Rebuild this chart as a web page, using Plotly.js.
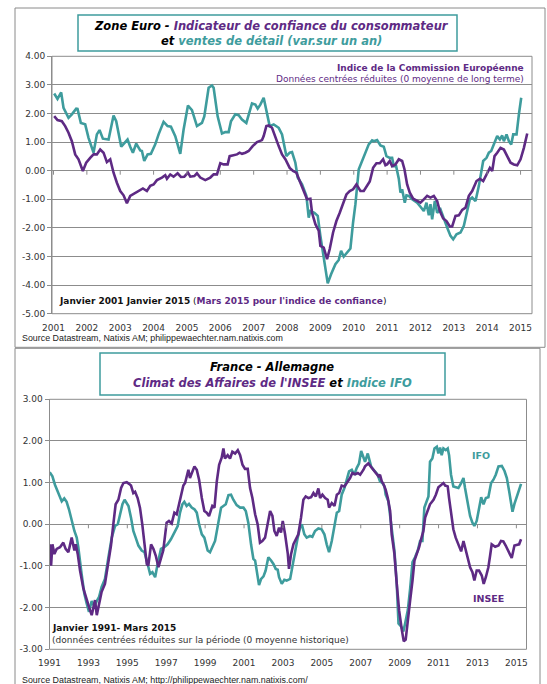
<!DOCTYPE html>
<html><head><meta charset="utf-8">
<script src="https://cdn.plot.ly/plotly-3.0.1.min.js"></script>
<style>html,body{margin:0;padding:0;background:#fff}#chart{width:547px;height:684px}</style>
</head><body><div id="chart"></div>
<script>
// ---------- DATA ----------
// Top chart: Zone Euro, 2001 - 2015 (decimal years)
const confYears = [2001.02,2001.12,2001.25,2001.35,2001.45,2001.55,2001.65,2001.75,2001.88,2001.98,
 2002.10,2002.20,2002.30,2002.40,2002.50,2002.60,2002.70,2002.80,2002.90,
 2003.00,2003.10,2003.20,2003.30,2003.45,2003.55,2003.68,2003.80,2003.90,
 2004.00,2004.10,2004.25,2004.35,2004.40,2004.50,2004.60,2004.72,2004.82,2004.92,
 2005.03,2005.10,2005.22,2005.30,2005.40,2005.55,2005.70,2005.80,2005.90,
 2006.00,2006.10,2006.22,2006.28,2006.38,2006.50,2006.58,2006.65,2006.75,2006.85,2006.97,
 2007.10,2007.25,2007.30,2007.38,2007.45,2007.55,2007.65,2007.75,2007.85,2007.95,
 2008.08,2008.18,2008.28,2008.38,2008.50,2008.60,2008.70,2008.75,2008.85,2008.95,
 2009.00,2009.10,2009.20,2009.28,2009.38,2009.48,2009.58,2009.68,2009.78,2009.88,2009.98,
 2010.08,2010.20,2010.30,2010.40,2010.48,2010.58,2010.68,2010.78,2010.88,2010.95,
 2011.00,2011.08,2011.15,2011.25,2011.35,2011.45,2011.52,2011.60,2011.68,2011.78,2011.90,
 2012.00,2012.10,2012.20,2012.30,2012.40,2012.50,2012.58,2012.68,2012.78,2012.88,2012.95,
 2013.05,2013.15,2013.25,2013.35,2013.45,2013.55,2013.68,2013.78,2013.88,2013.98,
 2014.08,2014.15,2014.22,2014.30,2014.40,2014.50,2014.60,2014.70,2014.80,2014.90,
 2015.00,2015.10,2015.20];
const confValues = [1.91,1.77,1.73,1.56,1.33,1.03,0.57,0.40,-0.01,0.28,
 0.45,0.57,0.57,0.74,0.63,0.30,0.40,-0.07,-0.42,
 -0.71,-0.86,-1.14,-0.88,-0.77,-0.71,-0.62,-0.71,-0.53,
 -0.48,-0.33,-0.24,-0.16,-0.28,-0.13,-0.21,-0.09,-0.22,-0.21,
 -0.07,-0.21,-0.19,-0.09,-0.24,-0.33,-0.24,-0.13,-0.13,
 0.26,0.22,0.22,0.51,0.53,0.57,0.63,0.59,0.63,0.69,0.86,
 1.00,1.07,1.21,1.56,1.58,1.50,1.15,0.86,0.57,0.40,
 0.10,-0.01,-0.07,-0.36,-0.77,-1.00,-0.98,-1.47,-1.87,-2.10,
 -2.63,-2.69,-3.09,-2.74,-2.16,-1.76,-1.47,-1.12,-0.83,-0.71,-0.65,
 -0.48,-0.71,-0.71,-0.53,-0.38,0.10,0.26,0.26,0.40,0.19,
 0.22,0.34,0.16,0.22,0.40,0.34,0.05,-0.48,-0.77,-0.98,-1.06,
 -1.12,-1.00,-0.88,-0.94,-0.88,-1.06,-1.41,-1.67,-1.76,-1.95,-1.95,
 -1.58,-1.56,-1.37,-1.29,-0.88,-0.71,-0.36,-0.28,-0.36,-0.13,
 0.10,-0.01,0.51,0.63,0.80,0.74,0.51,0.28,0.22,0.19,
 0.40,0.80,1.30];

const retailYears = [2001.02,2001.12,2001.23,2001.30,2001.45,2001.55,2001.68,2001.72,2001.82,2001.95,
 2002.05,2002.20,2002.30,2002.38,2002.48,2002.65,2002.80,2002.88,
 2003.03,2003.12,2003.22,2003.30,2003.38,2003.48,2003.60,2003.65,2003.72,2003.82,2003.92,
 2004.05,2004.15,2004.30,2004.42,2004.52,2004.65,2004.72,2004.80,2004.90,
 2005.03,2005.15,2005.30,2005.45,2005.52,2005.65,2005.75,2005.80,2005.92,
 2006.05,2006.15,2006.25,2006.32,2006.45,2006.55,2006.65,2006.78,2006.95,
 2007.05,2007.12,2007.20,2007.30,2007.40,2007.48,2007.60,2007.75,2007.85,2007.98,
 2008.08,2008.15,2008.25,2008.32,2008.45,2008.58,2008.65,2008.70,2008.82,2008.92,
 2009.00,2009.08,2009.14,2009.22,2009.32,2009.45,2009.55,2009.62,2009.70,2009.80,2009.90,2009.98,
 2010.05,2010.15,2010.25,2010.35,2010.45,2010.55,2010.60,2010.70,2010.80,2010.90,2010.98,
 2011.08,2011.15,2011.20,2011.27,2011.35,2011.40,2011.45,2011.53,2011.58,2011.65,2011.75,2011.90,
 2012.00,2012.10,2012.18,2012.25,2012.30,2012.35,2012.43,2012.50,2012.60,2012.70,2012.82,2012.90,2012.98,
 2013.08,2013.20,2013.30,2013.38,2013.48,2013.55,2013.65,2013.75,2013.88,2013.98,
 2014.05,2014.12,2014.20,2014.30,2014.38,2014.45,2014.50,2014.58,2014.65,2014.72,2014.78,2014.88,2014.95,
 2015.02];
const retailValues = [2.70,2.51,2.74,2.20,1.85,1.97,2.17,2.16,1.67,1.62,
 1.15,0.63,1.27,1.42,1.12,1.09,1.93,1.73,
 0.84,0.95,1.09,0.84,0.63,0.95,0.71,0.69,0.34,0.57,0.59,
 0.92,1.27,1.71,1.56,1.54,1.21,0.92,0.59,1.44,
 2.28,2.12,1.56,1.67,1.90,2.90,2.98,2.90,1.90,
 1.30,1.35,1.35,1.73,1.97,1.94,1.79,1.67,2.35,
 2.31,2.17,2.31,2.55,2.02,1.56,1.62,1.50,1.27,0.51,
 0.63,0.65,0.28,-0.24,-0.48,-0.88,-1.64,-1.41,-1.47,-1.58,
 -2.28,-2.86,-3.44,-3.94,-3.62,-3.27,-3.12,-2.80,-3.00,-2.86,-2.72,-1.81,
 -1.17,0.05,0.34,0.57,0.92,1.06,1.03,1.07,0.88,0.84,0.51,
 0.45,0.45,0.16,0.16,-0.28,-0.77,-0.65,-1.12,-0.86,-0.88,-1.00,-1.12,
 -1.26,-1.41,-1.12,-1.56,-1.17,-1.70,-1.06,-1.47,-1.35,-1.70,-2.05,-2.28,-2.40,
 -2.22,-2.16,-1.93,-1.47,-1.00,-0.94,-1.06,-0.53,0.34,0.45,
 0.63,0.69,0.95,1.21,1.09,1.23,1.03,1.27,1.03,0.92,1.27,1.27,1.97,
 2.55];

// Bottom chart: France - Allemagne, 1991 - 2015
const inseeYears = [1991.01,1991.08,1991.15,1991.25,1991.37,1991.54,1991.71,1991.83,1991.97,
 1992.14,1992.28,1992.35,1992.45,1992.57,1992.74,1992.91,
 1993.08,1993.17,1993.25,1993.34,1993.43,1993.51,1993.68,1993.85,
 1994.02,1994.16,1994.28,1994.40,1994.54,1994.68,1994.80,1994.97,
 1995.09,1995.19,1995.31,1995.40,1995.53,1995.65,1995.77,1995.88,
 1996.00,1996.08,1996.22,1996.34,1996.46,1996.60,1996.73,1996.85,
 1997.02,1997.14,1997.28,1997.42,1997.54,1997.71,1997.88,1997.97,
 1998.14,1998.22,1998.45,1998.57,1998.69,1998.83,1998.96,
 1999.08,1999.20,1999.37,1999.48,1999.60,1999.72,1999.85,1999.94,
 2000.02,2000.16,2000.28,2000.40,2000.54,2000.68,2000.80,2000.92,
 2001.05,2001.19,2001.31,2001.43,2001.57,2001.70,2001.82,2001.94,
 2002.08,2002.22,2002.34,2002.46,2002.56,2002.68,2002.80,2002.90,2002.99,
 2003.11,2003.25,2003.31,2003.42,2003.54,2003.66,2003.79,2003.93,
 2004.05,2004.17,2004.31,2004.45,2004.57,2004.69,2004.82,2004.91,
 2005.03,2005.17,2005.30,2005.37,2005.51,2005.65,2005.77,2005.89,
 2006.02,2006.16,2006.28,2006.45,2006.57,2006.71,2006.85,2006.97,
 2007.14,2007.22,2007.39,2007.56,2007.74,2007.91,2007.99,
 2008.08,2008.16,2008.28,2008.39,2008.51,2008.59,2008.73,2008.85,2008.97,
 2009.11,2009.21,2009.31,2009.42,2009.54,2009.66,2009.76,2009.88,
 2010.00,2010.10,2010.22,2010.31,2010.44,2010.56,2010.74,2010.86,2010.99,
 2011.13,2011.25,2011.34,2011.47,2011.54,2011.64,2011.76,2011.88,
 2012.02,2012.16,2012.28,2012.40,2012.50,2012.62,2012.74,2012.84,2012.96,
 2013.08,2013.22,2013.32,2013.43,2013.56,2013.65,2013.73,2013.91,
 2014.08,2014.21,2014.33,2014.45,2014.56,2014.68,2014.76,2014.90,
 2015.02,2015.14,2015.24];
const inseeValues = [-0.48,-0.99,-0.48,-0.71,-0.59,-0.55,-0.44,-0.59,-0.67,
 -0.32,-0.63,-0.48,-0.71,-1.11,-1.54,-1.82,
 -2.06,-2.18,-1.98,-1.82,-2.18,-2.02,-1.62,-1.43,
 -0.95,-0.51,0.00,0.48,0.59,0.87,0.99,1.01,
 0.97,0.93,0.75,0.78,0.63,0.40,0.00,-0.48,
 -0.95,-0.99,-0.48,-0.59,-0.75,-1.03,-0.78,-0.62,
 0.04,0.08,0.02,0.28,0.24,0.59,0.93,0.99,
 1.31,1.11,1.39,1.31,1.07,0.63,0.32,
 0.28,0.20,0.44,0.40,1.03,1.43,1.60,1.82,
 1.58,1.66,1.58,1.74,1.70,1.78,1.66,1.43,
 1.33,1.33,0.87,0.63,0.24,0.00,-0.44,-0.40,
 -0.32,0.04,0.32,0.20,-0.16,-0.28,-0.08,-0.20,0.08,
 -0.24,-0.71,-1.07,-0.71,-0.48,-0.36,-0.24,0.16,
 0.59,0.67,0.63,0.65,0.75,0.67,0.86,0.63,
 0.71,0.63,0.59,0.40,0.51,0.44,0.71,0.75,
 0.93,0.91,0.99,1.11,1.23,1.20,1.23,1.19,
 1.31,1.39,1.46,1.35,1.25,1.15,1.19,
 1.03,0.97,0.83,0.63,0.32,-0.24,-0.71,-1.43,-2.06,
 -2.53,-2.81,-2.77,-2.38,-1.82,-1.35,-0.87,-0.71,
 -0.55,-0.36,-0.16,0.16,0.33,0.48,0.59,0.71,0.89,
 0.95,0.99,0.93,0.91,0.63,0.32,-0.12,-0.32,
 -0.48,-0.65,-0.40,-0.65,-0.79,-1.03,-1.15,-1.35,-1.11,
 -1.11,-1.23,-1.43,-1.27,-1.03,-0.75,-0.48,-0.54,
 -0.51,-0.40,-0.41,-0.51,-0.62,-0.75,-0.81,-0.51,
 -0.49,-0.48,-0.36];

const ifoYears = [1991.01,1991.15,1991.28,1991.45,1991.63,1991.76,1991.88,
 1992.00,1992.14,1992.28,1992.40,1992.48,1992.65,1992.79,1992.91,
 1993.03,1993.17,1993.31,1993.43,1993.55,1993.68,1993.85,
 1994.03,1994.20,1994.37,1994.51,1994.63,1994.75,1994.86,1994.97,
 1995.06,1995.19,1995.31,1995.43,1995.57,1995.74,1995.88,
 1996.00,1996.17,1996.29,1996.43,1996.56,1996.73,1996.90,
 1997.07,1997.24,1997.42,1997.59,1997.71,1997.83,1997.93,
 1998.05,1998.17,1998.31,1998.45,1998.57,1998.69,1998.83,1998.96,
 1999.13,1999.25,1999.37,1999.51,1999.68,1999.82,1999.94,
 2000.06,2000.20,2000.33,2000.45,2000.62,2000.80,2000.97,
 2001.09,2001.22,2001.36,2001.48,2001.57,2001.65,2001.77,2001.88,
 2002.00,2002.11,2002.25,2002.39,2002.51,2002.63,2002.73,2002.80,2002.94,
 2003.07,2003.19,2003.37,2003.49,2003.62,2003.76,2003.88,2003.97,
 2004.10,2004.22,2004.39,2004.51,2004.65,2004.82,2004.99,
 2005.13,2005.25,2005.37,2005.51,2005.65,2005.77,2005.89,
 2006.02,2006.16,2006.28,2006.40,2006.54,2006.67,2006.79,2006.91,
 2007.02,2007.14,2007.22,2007.36,2007.43,2007.53,2007.65,2007.77,2007.87,2007.99,
 2008.11,2008.22,2008.28,2008.42,2008.51,2008.63,2008.73,2008.85,2008.94,
 2009.07,2009.19,2009.28,2009.42,2009.54,2009.66,2009.79,2009.93,
 2010.05,2010.17,2010.27,2010.39,2010.48,2010.56,2010.68,2010.79,2010.91,2010.99,
 2011.08,2011.16,2011.25,2011.37,2011.47,2011.54,2011.64,2011.76,2011.88,
 2012.02,2012.16,2012.28,2012.36,2012.50,2012.62,2012.74,2012.84,2012.96,
 2013.08,2013.19,2013.31,2013.43,2013.56,2013.70,2013.82,2013.94,
 2014.08,2014.25,2014.39,2014.51,2014.63,2014.73,2014.80,2014.90,
 2015.02,2015.14,2015.24];
const ifoValues = [1.25,1.15,0.95,0.75,0.55,0.62,0.54,
 0.36,0.08,-0.16,-0.32,-0.55,-1.19,-1.66,-1.90,
 -2.10,-1.84,-1.98,-1.84,-1.74,-1.50,-1.31,
 -0.79,-0.32,-0.04,0.00,0.24,0.48,0.59,0.51,
 0.44,0.16,-0.16,-0.32,-0.51,-0.63,-0.67,
 -0.87,-1.19,-1.15,-1.27,-0.95,-0.59,-0.55,
 -0.48,-0.36,-0.20,-0.04,0.28,0.48,0.54,
 0.44,0.49,0.40,0.36,0.28,0.00,-0.24,-0.32,
 -0.63,-0.67,-0.55,-0.40,0.04,0.40,0.44,
 0.48,0.70,0.71,0.59,0.46,0.40,0.40,
 0.32,0.04,-0.48,-0.83,-0.87,-1.15,-1.46,-1.31,
 -1.25,-1.11,-0.79,-0.87,-0.95,-1.07,-1.09,-1.27,-1.43,
 -1.33,-1.35,-1.31,-0.99,-0.63,-0.32,-0.08,0.00,
 -0.24,-0.32,-0.28,-0.30,-0.16,-0.10,-0.12,
 -0.24,-0.48,-0.67,-0.40,0.00,0.28,0.32,
 0.71,0.87,1.07,1.27,1.31,1.19,1.35,1.46,
 1.76,1.62,1.50,1.70,1.54,1.39,1.31,1.25,1.19,1.03,
 0.99,0.91,0.71,0.55,0.16,-0.32,-0.63,-1.43,-2.38,
 -2.45,-2.57,-2.38,-2.06,-1.54,-0.91,-0.79,-0.63,
 -0.40,-0.40,0.40,0.59,0.67,1.50,1.58,1.82,1.86,1.70,
 1.84,1.66,1.82,1.78,1.82,1.66,1.19,0.91,0.89,
 0.87,0.99,1.11,0.87,0.48,0.20,0.04,-0.04,0.08,
 0.40,0.65,0.48,0.63,0.65,0.99,1.07,1.19,
 1.39,1.40,1.28,1.11,0.79,0.49,0.30,0.49,
 0.67,0.87,0.97];

const topYearTicks = [2001,2002,2003,2004,2005,2006,2007,2008,2009,2010,2011,2012,2013,2014,2015];
const bottomYearTicks = [1991,1993,1995,1997,1999,2001,2003,2005,2007,2009,2011,2013,2015];
const topValueTicks = [-5,-4,-3,-2,-1,0,1,2,3,4];
const bottomValueTicks = [-3,-2,-1,0,1,2,3];

// ---------- STYLE ----------
const PURPLE = '#5E2A84';
const TEAL = '#3E9C9D';
const GRID = '#8C8C8C';
const FONT = 'DejaVu Sans, Verdana, sans-serif';
const W = 547, H = 684;
const PX = x => x / W;
const PY = y => 1 - y / H;

const traces = [
  {x: retailYears, y: retailValues, xaxis: 'x', yaxis: 'y', type: 'scatter', mode: 'lines',
   line: {color: TEAL, width: 2.6}, hoverinfo: 'skip'},
  {x: confYears, y: confValues, xaxis: 'x', yaxis: 'y', type: 'scatter', mode: 'lines',
   line: {color: PURPLE, width: 2.6}, hoverinfo: 'skip'},
  {x: ifoYears, y: ifoValues, xaxis: 'x2', yaxis: 'y2', type: 'scatter', mode: 'lines',
   line: {color: TEAL, width: 2.6}, hoverinfo: 'skip'},
  {x: inseeYears, y: inseeValues, xaxis: 'x2', yaxis: 'y2', type: 'scatter', mode: 'lines',
   line: {color: PURPLE, width: 2.6}, hoverinfo: 'skip'}
];

const tickFont = {family: FONT, size: 9, color: '#333'};
const xCommon = {showgrid: false, zeroline: false, showline: false, ticks: 'outside', ticklen: 5,
  tickcolor: 'rgba(0,0,0,0)', tickfont: tickFont, fixedrange: true};
const yCommon = {showgrid: true, gridcolor: GRID, gridwidth: 1, zeroline: false, showline: true,
  linecolor: GRID, linewidth: 1, ticks: 'outside', ticklen: 4, tickcolor: GRID,
  tickfont: tickFont, fixedrange: true};

const layout = {
  width: W, height: H, margin: {l: 0, r: 0, t: 0, b: 0},
  paper_bgcolor: '#fff', plot_bgcolor: '#fff', showlegend: false,
  xaxis: Object.assign({}, xCommon, {domain: [PX(52), PX(532)], range: [2000.955, 2015.343],
    anchor: 'y', tickvals: topYearTicks, ticktext: topYearTicks.map(String)}),
  yaxis: Object.assign({}, yCommon, {domain: [PY(313.7), PY(56.3)], range: [-5, 4], anchor: 'x',
    tickvals: topValueTicks, ticktext: topValueTicks.map(v => v.toFixed(2))}),
  xaxis2: Object.assign({}, xCommon, {domain: [PX(49.5), PX(526.5)], range: [1991.0, 2015.52],
    anchor: 'y2', tickvals: bottomYearTicks, ticktext: bottomYearTicks.map(String)}),
  yaxis2: Object.assign({}, yCommon, {domain: [PY(649.3), PY(399.3)], range: [-3, 3], anchor: 'x2',
    tickvals: bottomValueTicks, ticktext: bottomValueTicks.map(v => v.toFixed(2))}),
  shapes: [],
  annotations: []
};

// panel frames
layout.shapes.push({type: 'rect', xref: 'paper', yref: 'paper', x0: PX(15), x1: PX(545), y0: PY(347.3), y1: PY(8),
  line: {color: '#8a8a8a', width: 1}, fillcolor: 'rgba(0,0,0,0)', layer: 'below'});
layout.shapes.push({type: 'rect', xref: 'paper', yref: 'paper', x0: PX(15), x1: PX(540), y0: PY(700), y1: PY(348.3),
  line: {color: '#8a8a8a', width: 1}, fillcolor: 'rgba(0,0,0,0)', layer: 'below'});
// plot-area frames
[['x', 'y'], ['x2', 'y2']].forEach(([xa, ya]) => {
  layout.shapes.push({type: 'rect', xref: xa + ' domain', yref: ya + ' domain', x0: 0, x1: 1, y0: 0, y1: 1,
    line: {color: GRID, width: 1}, fillcolor: 'rgba(0,0,0,0)'});
});
// tick marks on the zero line
topYearTicks.forEach(t => layout.shapes.push({type: 'line', xref: 'x', yref: 'y', ysizemode: 'pixel', yanchor: 0,
  x0: t, x1: t, y0: 0, y1: -4, line: {color: GRID, width: 1}}));
bottomYearTicks.forEach(t => layout.shapes.push({type: 'line', xref: 'x2', yref: 'y2', ysizemode: 'pixel', yanchor: 0,
  x0: t, x1: t, y0: 0, y1: -4, line: {color: GRID, width: 1}}));
// title boxes
layout.shapes.push({type: 'rect', xref: 'paper', yref: 'paper', x0: PX(78), x1: PX(457), y0: PY(51), y1: PY(15),
  line: {color: TEAL, width: 1.5}, fillcolor: '#fff'});
layout.shapes.push({type: 'rect', xref: 'paper', yref: 'paper', x0: PX(100), x1: PX(445), y0: PY(395), y1: PY(353),
  line: {color: TEAL, width: 1.5}, fillcolor: '#fff'});

function ann(x, y, text, opts) {
  layout.annotations.push(Object.assign({xref: 'paper', yref: 'paper', x: PX(x), y: PY(y), text: text,
    showarrow: false, xanchor: 'center', yanchor: 'middle', borderpad: 0,
    font: {family: FONT, size: 9, color: '#222'}}, opts || {}));
}
const span = (c, t) => '<span style="color:' + c + '">' + t + '</span>';

ann(271, 26, '<b><i>Zone Euro - ' + span(PURPLE, 'Indicateur de confiance du consommateur') + '</i></b>',
  {font: {family: FONT, size: 11.5, color: '#000'}});
ann(271, 40.5, '<b><i>et ' + span(TEAL, 'ventes de détail (var.sur un an)') + '</i></b>',
  {font: {family: FONT, size: 11.5, color: '#000'}});
ann(525, 67.7, '<b>Indice de la Commission Européenne</b>', {xanchor: 'right', font: {family: FONT, size: 9, color: PURPLE}});
ann(525, 79.5, 'Données centrées réduites (0 moyenne de long terme)', {xanchor: 'right', font: {family: FONT, size: 9, color: PURPLE}});
ann(58, 301, '<b>Janvier 2001 Janvier 2015</b> (' + span(PURPLE, "<b>Mars 2015 pour l'indice de confiance</b>") + ')',
  {xanchor: 'left', font: {family: FONT, size: 9, color: '#111'}});
ann(20.7, 337.7, 'Source Datastream, Natixis AM; philippewaechter.nam.natixis.com',
  {xanchor: 'left', font: {family: 'Liberation Sans, Arial, sans-serif', size: 8.9, color: '#222'}});

ann(272, 367.3, '<b><i>France - Allemagne</i></b>', {font: {family: FONT, size: 11.5, color: '#000'}});
ann(272, 383, '<b><i>' + span(PURPLE, "Climat des Affaires de l'INSEE") + ' et ' + span(TEAL, 'Indice IFO') + '</i></b>',
  {font: {family: FONT, size: 11.5, color: '#000'}});
ann(481, 455.3, '<b>IFO</b>', {font: {family: FONT, size: 9.5, color: TEAL}});
ann(488.3, 598, '<b>INSEE</b>', {font: {family: FONT, size: 9.5, color: PURPLE}});
ann(51, 628, '<b>Janvier 1991- Mars 2015</b>', {xanchor: 'left', font: {family: FONT, size: 9, color: '#111'}});
ann(51, 640, '(données centrées réduites sur la période (0 moyenne historique)', {xanchor: 'left', font: {family: FONT, size: 9, color: '#333'}});
ann(20.7, 680, 'Source Datastream, Natixis AM; http://philippewaechter.nam.natixis.com/',
  {xanchor: 'left', font: {family: 'Liberation Sans, Arial, sans-serif', size: 8.9, color: '#222'}});

Plotly.newPlot('chart', traces, layout, {displayModeBar: false, staticPlot: true});
</script></body></html>
